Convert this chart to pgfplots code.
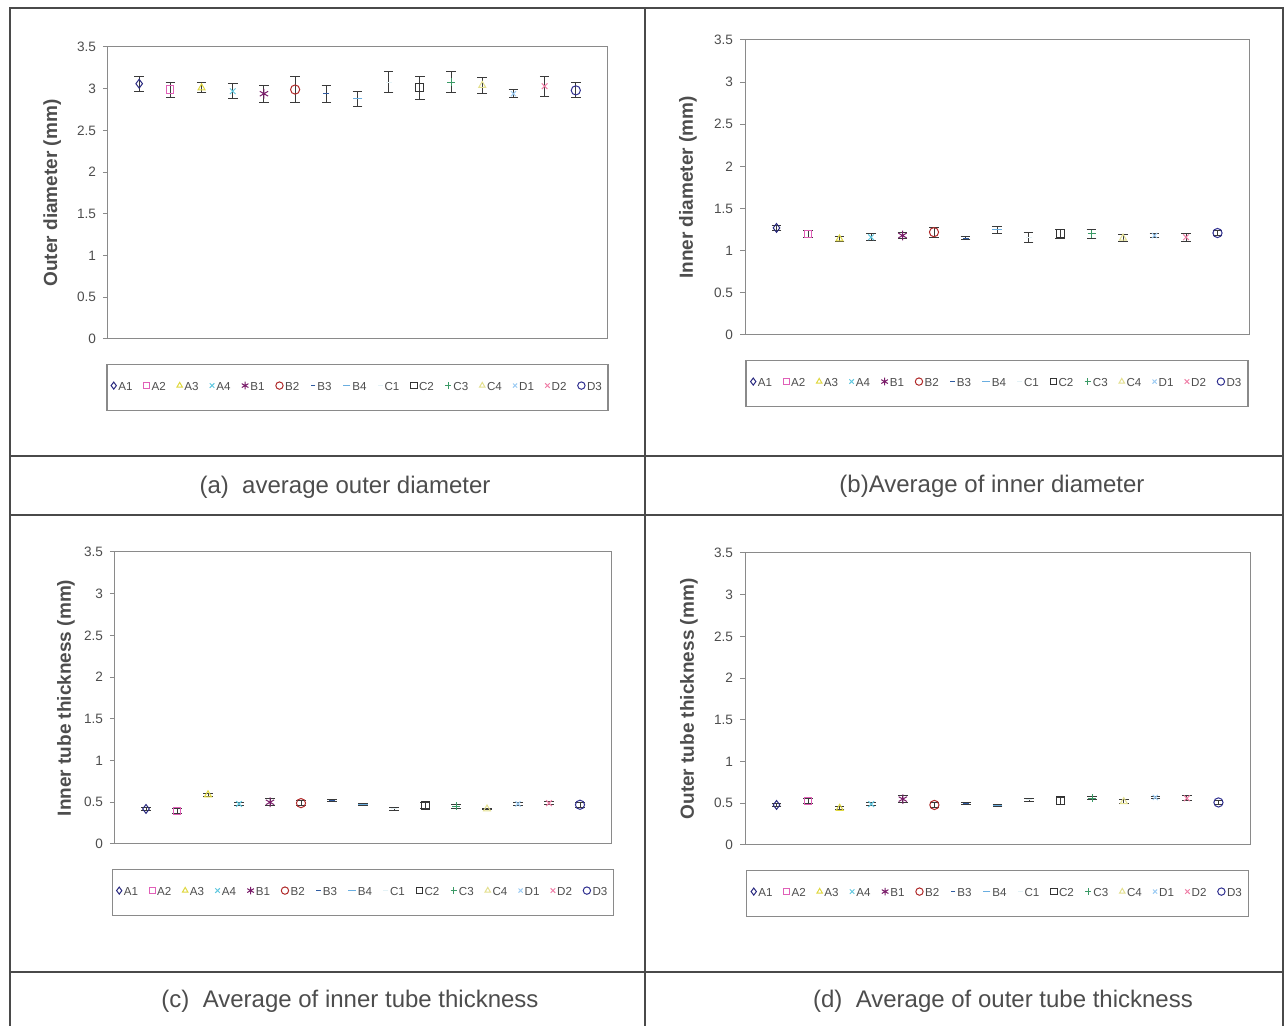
\documentclass[border=0pt]{standalone}
\usepackage{pgfplots}
\pgfplotsset{compat=1.18}
\usepackage{fontspec}
\setmainfont{Liberation Sans}

\definecolor{framec}{HTML}{4A4A4A}
\definecolor{axgray}{HTML}{8A8A8A}
\definecolor{txtgray}{HTML}{4D4D4D}
\definecolor{errgray}{HTML}{3A3A3A}
\definecolor{cA1}{HTML}{2A2A80}
\definecolor{cA2}{HTML}{E060B8}
\definecolor{cA3}{HTML}{E0D840}
\definecolor{cA4}{HTML}{60C8E0}
\definecolor{cB1}{HTML}{7A1C6A}
\definecolor{cB2}{HTML}{B02A2A}
\definecolor{cB3}{HTML}{2E5AA0}
\definecolor{cB4}{HTML}{6AAEE0}
\definecolor{cC1}{HTML}{E4F2F6}
\definecolor{cC2}{HTML}{333333}
\definecolor{cC3}{HTML}{3A9A66}
\definecolor{cC4}{HTML}{E4E090}
\definecolor{cD1}{HTML}{9CCCF4}
\definecolor{cD2}{HTML}{F080A8}
\definecolor{cD3}{HTML}{303090}

\pgfplotscreateplotcyclelist{excel}{%
cA1, mark=diamond, mark size=2.2pt\\
cA2, mark=square, mark size=1.8pt\\
cA3, mark=triangle, mark size=2pt\\
cA4, mark=x, mark size=2pt\\
cB1, mark=asterisk, mark size=2.4pt\\
cB2, mark=o, mark size=2.3pt\\
cB3, mark=-, mark size=1.5pt\\
cB4, mark=-, mark size=2.4pt\\
cC1, mark=-, mark size=1.5pt\\
cC2, mark=square, mark size=2pt\\
cC3, mark=+, mark size=2pt\\
cC4, mark=triangle, mark size=2pt\\
cD1, mark=x, mark size=1.8pt\\
cD2, mark=x, mark size=2pt\\
cD3, mark=o, mark size=2.3pt\\
}

\pgfplotsset{
  panel/.style={
    scale only axis,
    xmin=0, xmax=16, ymin=0, ymax=3.5,
    xtick=\empty,
    ytick={0,0.5,1,1.5,2,2.5,3,3.5},
    tick align=outside, ytick pos=left, major tick length=2.5pt,
    axis line style={draw=axgray, line width=0.5pt},
    tick style={draw=axgray, line width=0.5pt},
    /pgf/number format/assume math mode=true,
    yticklabel style={font=\fontsize{6.8}{8}\selectfont, text=txtgray},
    ylabel style={font=\fontsize{9.5}{10}\selectfont\bfseries, text=txtgray, anchor=center},
    cycle list name=excel,
    every axis plot/.append style={
      only marks, line width=0.5pt,
      error bars/y dir=both, error bars/y explicit,
      error bars/error bar style={draw=errgray, line width=0.5pt},
      error bars/error mark options={rotate=90, draw=errgray, mark size=2.4pt, line width=0.5pt},
      legend image code/.code={\draw[##1, only marks, mark options={scale=0.8}] plot coordinates {(2pt,1pt)};},
    },
    legend columns=15,
    legend style={
      at={(0.5,0)}, anchor=north, yshift=-12.5pt,
      draw=axgray, line width=0.6pt,
      font=\fontsize{5.8}{6}\selectfont, text=txtgray,
      minimum height=23pt, inner xsep=2pt,
      nodes={inner xsep=1pt, minimum width=0pt, minimum height=0pt},
      /tikz/every even column/.append style={column sep=4.6pt},
    },
  },
}

\begin{document}
\begin{tikzpicture}
\path[use as bounding box] (0pt,0pt) rectangle (642pt,513pt);
\draw[framec, line width=0.8pt] (5pt,0pt) -- (5pt,509pt) -- (641.5pt,509pt) -- (641.5pt,0pt);
\draw[framec, line width=0.8pt] (322.5pt,0pt) -- (322.5pt,509pt);
\draw[framec, line width=0.8pt] (5pt,285pt) -- (641.5pt,285pt);
\draw[framec, line width=0.8pt] (5pt,255.5pt) -- (641.5pt,255.5pt);
\draw[framec, line width=0.8pt] (5pt,27pt) -- (641.5pt,27pt);

\node[font=\fontsize{12}{13}\selectfont, text=txtgray] at (172.5pt,269.5pt) {(a)\ \ average outer diameter};
\node[font=\fontsize{12}{13}\selectfont, text=txtgray] at (496pt,270pt) {(b)Average of inner diameter};
\node[font=\fontsize{12}{13}\selectfont, text=txtgray] at (175pt,12.5pt) {(c)\ \ Average of inner tube thickness};
\node[font=\fontsize{12}{13}\selectfont, text=txtgray] at (501.5pt,12.5pt) {(d)\ \ Average of outer tube thickness};

% (a) outer diameter
\begin{axis}[panel, at={(54pt,343.5pt)}, anchor=south west, width=249.5pt, height=146pt,
  legend style={minimum width=249.5pt},
  ylabel={Outer diameter (mm)}, ylabel style={at={(axis description cs:-0.112,0.5)}}]
\addplot coordinates {(1,3.06) +- (0,0.09)};
\addplot coordinates {(2,2.99) +- (0,0.09)};
\addplot coordinates {(3,3.01) +- (0,0.06)};
\addplot coordinates {(4,2.97) +- (0,0.09)};
\addplot coordinates {(5,2.94) +- (0,0.10)};
\addplot coordinates {(6,2.99) +- (0,0.16)};
\addplot coordinates {(7,2.94) +- (0,0.10)};
\addplot coordinates {(8,2.88) +- (0,0.09)};
\addplot coordinates {(9,3.08) +- (0,0.13)};
\addplot coordinates {(10,3.01) +- (0,0.14)};
\addplot coordinates {(11,3.08) +- (0,0.13)};
\addplot coordinates {(12,3.04) +- (0,0.10)};
\addplot coordinates {(13,2.94) +- (0,0.05)};
\addplot coordinates {(14,3.03) +- (0,0.12)};
\addplot coordinates {(15,2.98) +- (0,0.09)};
\legend{A1,A2,A3,A4,B1,B2,B3,B4,C1,C2,C3,C4,D1,D2,D3}
\end{axis}

% (b) inner diameter
\begin{axis}[panel, at={(372.5pt,345.5pt)}, anchor=south west, width=252pt, height=147.5pt,
  legend style={minimum width=251pt},
  ylabel={Inner diameter (mm)}, ylabel style={at={(axis description cs:-0.113,0.5)}}]
\addplot coordinates {(1,1.27) +- (0,0.03)};
\addplot coordinates {(2,1.20) +- (0,0.04)};
\addplot coordinates {(3,1.14) +- (0,0.03)};
\addplot coordinates {(4,1.16) +- (0,0.04)};
\addplot coordinates {(5,1.18) +- (0,0.04)};
\addplot coordinates {(6,1.22) +- (0,0.06)};
\addplot coordinates {(7,1.15) +- (0,0.02)};
\addplot coordinates {(8,1.25) +- (0,0.04)};
\addplot coordinates {(9,1.16) +- (0,0.06)};
\addplot coordinates {(10,1.20) +- (0,0.05)};
\addplot coordinates {(11,1.20) +- (0,0.05)};
\addplot coordinates {(12,1.15) +- (0,0.04)};
\addplot coordinates {(13,1.18) +- (0,0.02)};
\addplot coordinates {(14,1.16) +- (0,0.05)};
\addplot coordinates {(15,1.21) +- (0,0.03)};
\legend{A1,A2,A3,A4,B1,B2,B3,B4,C1,C2,C3,C4,D1,D2,D3}
\end{axis}

% (c) inner tube thickness
\begin{axis}[panel, at={(57.5pt,91pt)}, anchor=south west, width=248pt, height=146pt,
  legend style={minimum width=249.5pt},
  ylabel={Inner tube thickness (mm)}, ylabel style={at={(axis description cs:-0.099,0.5)}}]
\addplot coordinates {(1,0.42) +- (0,0.02)};
\addplot coordinates {(2,0.40) +- (0,0.03)};
\addplot coordinates {(3,0.59) +- (0,0.02)};
\addplot coordinates {(4,0.48) +- (0,0.02)};
\addplot coordinates {(5,0.50) +- (0,0.04)};
\addplot coordinates {(6,0.49) +- (0,0.03)};
\addplot coordinates {(7,0.52) +- (0,0.01)};
\addplot coordinates {(8,0.47) +- (0,0.01)};
\addplot coordinates {(9,0.42) +- (0,0.02)};
\addplot coordinates {(10,0.46) +- (0,0.04)};
\addplot coordinates {(11,0.45) +- (0,0.02)};
\addplot coordinates {(12,0.42) +- (0,0.01)};
\addplot coordinates {(13,0.48) +- (0,0.02)};
\addplot coordinates {(14,0.49) +- (0,0.02)};
\addplot coordinates {(15,0.47) +- (0,0.03)};
\legend{A1,A2,A3,A4,B1,B2,B3,B4,C1,C2,C3,C4,D1,D2,D3}
\end{axis}

% (d) outer tube thickness
\begin{axis}[panel, at={(372.5pt,90.5pt)}, anchor=south west, width=252.5pt, height=146pt,
  legend style={minimum width=251pt},
  ylabel={Outer tube thickness (mm)}, ylabel style={at={(axis description cs:-0.111,0.5)}}]
\addplot coordinates {(1,0.48) +- (0,0.02)};
\addplot coordinates {(2,0.53) +- (0,0.03)};
\addplot coordinates {(3,0.44) +- (0,0.02)};
\addplot coordinates {(4,0.49) +- (0,0.02)};
\addplot coordinates {(5,0.55) +- (0,0.04)};
\addplot coordinates {(6,0.48) +- (0,0.03)};
\addplot coordinates {(7,0.50) +- (0,0.01)};
\addplot coordinates {(8,0.47) +- (0,0.01)};
\addplot coordinates {(9,0.54) +- (0,0.02)};
\addplot coordinates {(10,0.53) +- (0,0.04)};
\addplot coordinates {(11,0.56) +- (0,0.02)};
\addplot coordinates {(12,0.52) +- (0,0.02)};
\addplot coordinates {(13,0.57) +- (0,0.01)};
\addplot coordinates {(14,0.56) +- (0,0.03)};
\addplot coordinates {(15,0.51) +- (0,0.02)};
\legend{A1,A2,A3,A4,B1,B2,B3,B4,C1,C2,C3,C4,D1,D2,D3}
\end{axis}
\end{tikzpicture}
\end{document}
